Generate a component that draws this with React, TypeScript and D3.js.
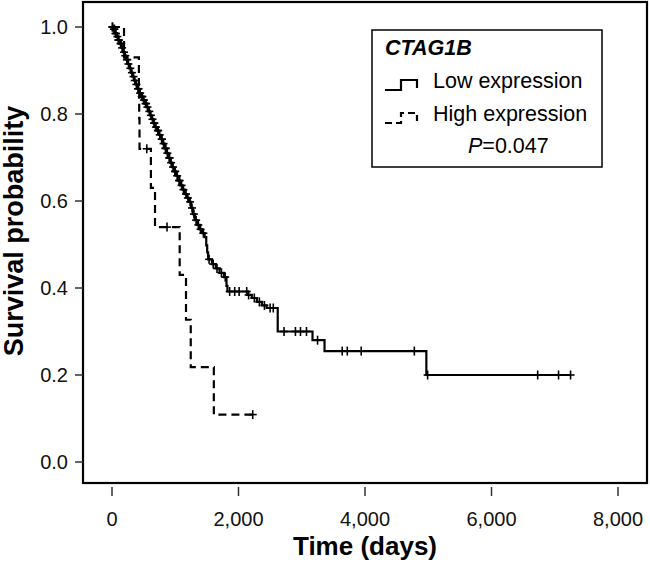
import React from "react";
import * as d3 from "d3";

const xTicks = [0, 2000, 4000, 6000, 8000];
const yTicks = [0, 0.2, 0.4, 0.6, 0.8, 1.0];

// Low expression: [time, survival] step events
const lowTimes = [0, 20, 45, 70, 95, 120, 150, 175, 200, 225, 250, 275, 300, 325, 350, 375, 400, 430, 460, 490, 520, 550, 575, 600, 625, 650, 680, 710, 740, 770, 800, 830, 860, 890, 920, 950, 980, 1010, 1045, 1080, 1115, 1150, 1185, 1220, 1250, 1280, 1310, 1345, 1385, 1425, 1465, 1490, 1505, 1520, 1580, 1640, 1700, 1770, 1810, 1825, 2140, 2210, 2290, 2370, 2445, 2620, 3170, 3360, 4970];
const lowSurv = [1, 0.995, 0.985, 0.978, 0.97, 0.962, 0.952, 0.942, 0.934, 0.925, 0.915, 0.905, 0.895, 0.886, 0.877, 0.868, 0.858, 0.848, 0.84, 0.832, 0.824, 0.816, 0.806, 0.797, 0.788, 0.779, 0.77, 0.762, 0.752, 0.742, 0.732, 0.721, 0.71, 0.699, 0.688, 0.678, 0.668, 0.658, 0.647, 0.636, 0.626, 0.616, 0.607, 0.598, 0.584, 0.57, 0.556, 0.545, 0.535, 0.526, 0.517, 0.498, 0.482, 0.466, 0.455, 0.445, 0.435, 0.425, 0.405, 0.392, 0.384, 0.377, 0.368, 0.36, 0.354, 0.30, 0.28, 0.255, 0.20];
const lowEnd = 7250;
const lowCensor = [5, 10, 30, 40, 55, 62, 85, 100, 110, 135, 145, 160, 190, 210, 235, 240, 260, 290, 315, 340, 360, 385, 410, 420, 445, 470, 480, 505, 530, 540, 560, 590, 615, 640, 665, 670, 695, 725, 730, 755, 785, 790, 815, 845, 850, 875, 905, 910, 935, 965, 995, 1000, 1030, 1060, 1070, 1100, 1130, 1170, 1200, 1235, 1265, 1295, 1330, 1365, 1400, 1445, 1535, 1600, 1660, 1730, 1790, 1860, 1940, 2010, 2130, 2160, 2250, 2330, 2410, 2500, 2550, 2720, 2900, 2980, 3075, 3250, 3640, 3720, 3940, 4780, 4990, 6730, 7060, 7250];

// High expression
const highTimes = [0, 190, 425, 430, 435, 615, 680, 1070, 1170, 1245, 1610];
const highSurv = [1, 0.93, 0.86, 0.79, 0.72, 0.63, 0.54, 0.43, 0.327, 0.218, 0.109];
const highEnd = 2225;
const highCensor = [550, 870, 2225];

const W = 650, H = 563;
const FRAME = { left: 83, right: 647, top: 2, bottom: 483 };
const FONT = "Liberation Sans, Arial, sans-serif";

function survAt(times: number[], surv: number[], t: number) {
  let v = surv[0];
  for (let i = 0; i < times.length; i++) if (times[i] <= t) v = surv[i];
  return v;
}

export default function App() {
  const x = d3.scaleLinear().domain([0, 8000]).range([112, 618]);
  const y = d3.scaleLinear().domain([0, 1]).range([462, 27]);
  const line = d3
    .line<[number, number]>()
    .x((d) => x(d[0]))
    .y((d) => y(d[1]))
    .curve(d3.curveStepAfter);

  const lowPts: [number, number][] = lowTimes.map((t, i) => [t, lowSurv[i]] as [number, number]);
  lowPts.push([lowEnd, lowSurv[lowSurv.length - 1]]);
  const highPts: [number, number][] = highTimes.map((t, i) => [t, highSurv[i]] as [number, number]);
  highPts.push([highEnd, highSurv[highSurv.length - 1]]);

  const cross = (cx: number, cy: number, key: string) => (
    <g key={key} stroke="#000" strokeWidth={1.6}>
      <line x1={cx} x2={cx} y1={cy - 4.5} y2={cy + 4.5} />
      <line x1={cx - 4} x2={cx + 4} y1={cy} y2={cy} />
    </g>
  );

  return (
    <svg width={W} height={H} style={{ position: "absolute", left: 0, top: 0, background: "#fff" }} fontFamily={FONT}>
      <rect x={0} y={0} width={W} height={H} fill="#fff" />
      {/* frame */}
      <rect x={FRAME.left} y={FRAME.top} width={FRAME.right - FRAME.left} height={FRAME.bottom - FRAME.top} fill="none" stroke="#000" strokeWidth={2.2} />
      {/* y ticks */}
      {yTicks.map((t) => (
        <g key={"y" + t}>
          <line x1={75} x2={FRAME.left} y1={y(t)} y2={y(t)} stroke="#333" strokeWidth={1.5} />
          <text x={68} y={y(t)} dy="0.35em" textAnchor="end" fontSize={20} fill="#111">
            {d3.format(".1f")(t)}
          </text>
        </g>
      ))}
      {/* x ticks */}
      {xTicks.map((t) => (
        <g key={"x" + t}>
          <line x1={x(t)} x2={x(t)} y1={487} y2={496} stroke="#333" strokeWidth={1.5} />
          <text x={x(t)} y={519} dy="0.35em" textAnchor="middle" fontSize={20} fill="#111">
            {d3.format(",")(t)}
          </text>
        </g>
      ))}
      {/* axis titles */}
      <text x={365} y={555} textAnchor="middle" fontSize={26} fontWeight="bold">Time (days)</text>
      <text transform={`translate(23,231) rotate(-90)`} textAnchor="middle" fontSize={27} fontWeight="bold">
        Survival probability
      </text>
      {/* curves */}
      <path d={line(lowPts) || ""} fill="none" stroke="#000" strokeWidth={2.2} />
      <path d={line(highPts) || ""} fill="none" stroke="#000" strokeWidth={2.2} strokeDasharray="8,5" />
      {lowCensor.map((t, i) => cross(x(t), y(survAt(lowTimes, lowSurv, t)), "lc" + i))}
      {highCensor.map((t, i) => cross(x(t), y(survAt(highTimes, highSurv, t)), "hc" + i))}
      {/* legend */}
      <rect x={372} y={30} width={230} height={137} fill="#fff" stroke="#000" strokeWidth={1.5} />
      <text x={385} y={55} fontSize={21.5} fontWeight="bold" fontStyle="italic">CTAG1B</text>
      <path d="M385,90 H401 V80 H417 V88" fill="none" stroke="#000" strokeWidth={2.2} />
      <text x={433} y={88} fontSize={21.5}>Low expression</text>
      <path d="M385,123 H401 V113 H417 V121" fill="none" stroke="#000" strokeWidth={2.2} strokeDasharray="7,4" />
      <text x={433} y={121} fontSize={21.5}>High expression</text>
      <text x={468} y={153} fontSize={21.5}>
        <tspan fontStyle="italic">P</tspan>=0.047
      </text>
    </svg>
  );
}
